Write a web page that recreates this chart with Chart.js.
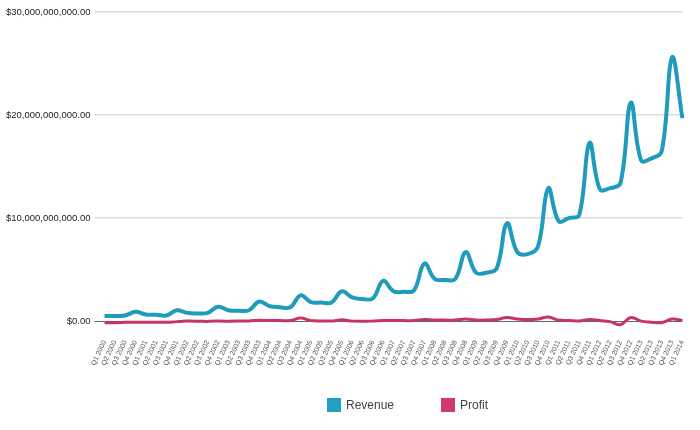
<!DOCTYPE html>
<html>
<head>
<meta charset="utf-8">
<script src="https://cdn.jsdelivr.net/npm/chart.js@4"></script>
<style>
  html, body { margin: 0; padding: 0; background: #fff; }
  #wrap { position: relative; width: 700px; height: 430px; }
  .legend { position: absolute; left: 327px; top: 398px; display: flex; align-items: center;
            font-family: "Liberation Sans", Arial, sans-serif; font-size: 12px; color: #444; }
  .legend-item { display: flex; align-items: center; margin-right: 47px; }
  .legend-box { width: 14px; height: 14px; margin-right: 5px; }
</style>
</head>
<body>
<div id="wrap">
  <canvas id="myChart"></canvas>
  <div class="legend" id="legend"></div>
</div>
<script>
// quarters Q1 2000 .. Q1 2014
var years = [2000, 2001, 2002, 2003, 2004, 2005, 2006, 2007, 2008, 2009, 2010, 2011, 2012, 2013, 2014];
var quarters = ['Q1', 'Q2', 'Q3', 'Q4'];

// values in billions of dollars
var revenue = [
    0.50, 0.50, 0.55, 0.90,
    0.65, 0.62, 0.55, 1.05,
    0.80, 0.75, 0.80, 1.40,
    1.05, 1.00, 1.05, 1.90,
    1.45, 1.35, 1.35, 2.50,
    1.85, 1.80, 1.80, 2.90,
    2.30, 2.15, 2.20, 3.90,
    2.90, 2.85, 3.00, 5.60,
    4.10, 4.00, 4.10, 6.70,
    4.70, 4.70, 5.10, 9.50,
    6.70, 6.50, 7.20, 12.90,
    9.70, 10.00, 10.30, 17.30,
    12.80, 12.90, 13.40, 21.20,
    15.60, 15.80, 16.50, 25.60,
    19.70
];
var profit = [
    -0.15, -0.15, -0.12, -0.10,
    -0.10, -0.10, -0.12, -0.05,
    0.00, -0.02, -0.03, 0.02,
    -0.02, 0.00, 0.02, 0.08,
    0.05, 0.05, 0.05, 0.30,
    0.05, 0.00, 0.00, 0.12,
    0.00, -0.02, 0.00, 0.05,
    0.05, 0.05, 0.05, 0.15,
    0.10, 0.10, 0.10, 0.20,
    0.10, 0.10, 0.15, 0.35,
    0.20, 0.15, 0.20, 0.40,
    0.10, 0.05, 0.00, 0.15,
    0.05, -0.05, -0.35, 0.35,
    0.00, -0.10, -0.15, 0.20,
    0.05
];
var yTicks = [0, 10, 20, 30];

var labels = [];
years.forEach(function (y) {
    quarters.forEach(function (q) {
        if (labels.length < revenue.length) labels.push(q + ' ' + y);
    });
});

function toDollars(arr) {
    return arr.map(function (v) { return v * 1e9; });
}

Chart.defaults.font.family = '"Liberation Sans", Arial, sans-serif';
Chart.defaults.color = '#333';

const ctx = document.getElementById('myChart').getContext('2d');
var myChart = new Chart(ctx, {
    type: 'line',
    data: {
        labels: labels,
        datasets: [{
            label: 'Revenue',
            data: toDollars(revenue),
            borderColor: '#1f9bbb',
            backgroundColor: '#22a0c2',
            borderWidth: 4,
            pointRadius: 0,
            tension: 0.4,
            clip: false
        }, {
            label: 'Profit',
            data: toDollars(profit),
            borderColor: '#c73662',
            backgroundColor: '#cf3a68',
            borderWidth: 3,
            pointRadius: 0,
            tension: 0.4,
            clip: false
        }]
    },
    options: {
        responsive: true,
        maintainAspectRatio: false,
        animation: false,
        layout: {
            padding: { top: 12, right: 10, left: 2, bottom: 53 }
        },
        plugins: {
            legend: { display: false },
            tooltip: { enabled: false }
        },
        scales: {
            x: {
                grid: { display: false },
                border: { display: false },
                ticks: {
                    autoSkip: false,
                    minRotation: 65,
                    maxRotation: 65,
                    padding: 10,
                    font: { size: 7 },
                    color: '#555'
                }
            },
            y: {
                min: yTicks[0] * 1e9,
                max: yTicks[yTicks.length - 1] * 1e9,
                afterBuildTicks: function (axis) {
                    axis.ticks = yTicks.map(function (v) { return { value: v * 1e9 }; });
                },
                border: { display: false },
                grid: {
                    tickLength: 10,
                    color: function (c) {
                        return c.tick && c.tick.value === 0 ? '#666' : '#dcdcdc';
                    },
                    lineWidth: function (c) {
                        return c.tick && c.tick.value === 0 ? 1 : 1.5;
                    }
                },
                ticks: {
                    padding: 4,
                    font: { size: 9.5 },
                    color: '#222',
                    callback: function (v) {
                        return '$' + Number(v).toLocaleString('en-US', { minimumFractionDigits: 2, maximumFractionDigits: 2 });
                    }
                }
            }
        }
    }
});

// simple html legend
var legendDiv = document.getElementById('legend');
myChart.data.datasets.forEach(function (ds) {
    var item = document.createElement('div');
    item.className = 'legend-item';
    item.innerHTML = '<span class="legend-box" style="background:' + ds.backgroundColor + '"></span>' + ds.label;
    legendDiv.appendChild(item);
});
</script>
</body>
</html>
